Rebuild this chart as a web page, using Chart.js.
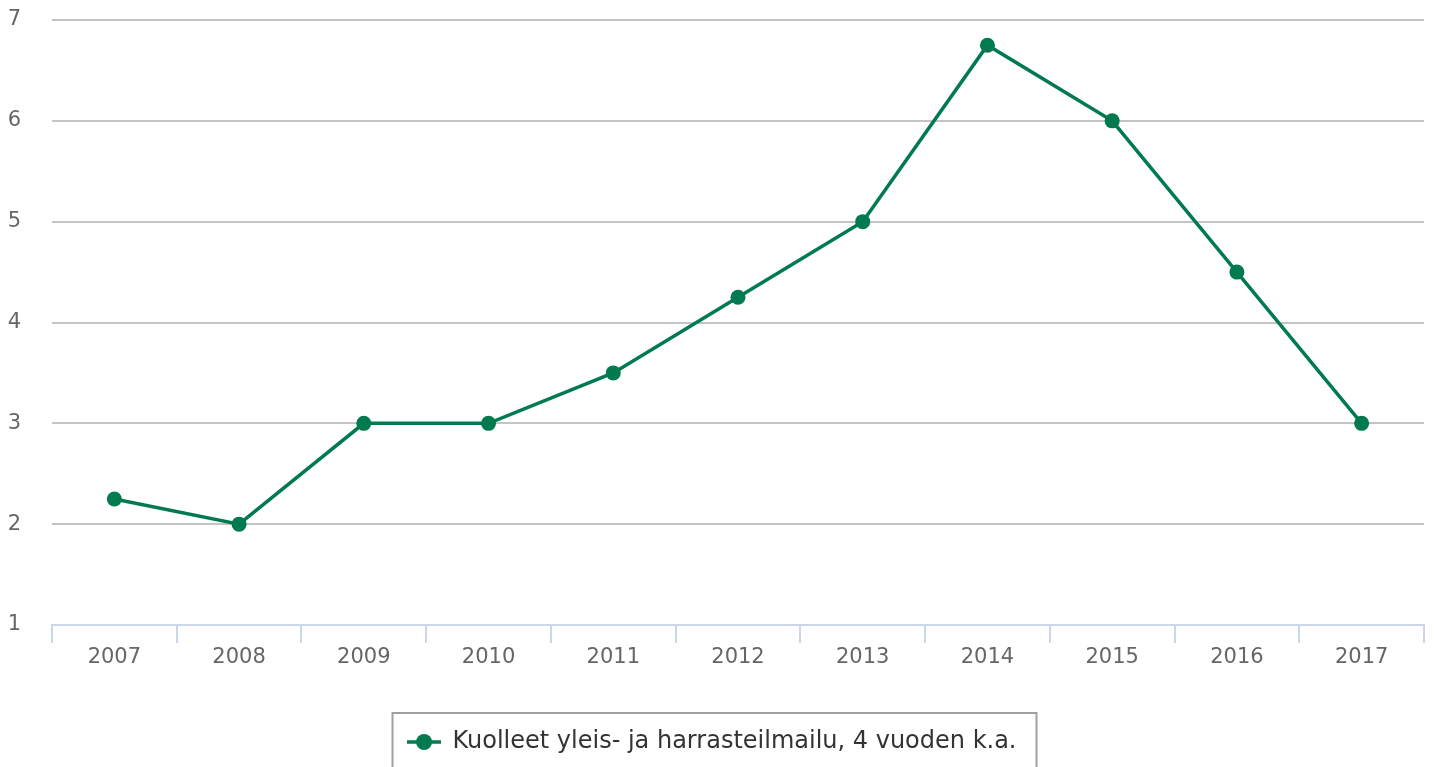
<!DOCTYPE html>
<html>
<head>
<meta charset="utf-8">
<script src="https://cdn.jsdelivr.net/npm/chart.js@4/dist/chart.umd.min.js"></script>
<style>
  html, body { margin: 0; padding: 0; background: #fff; }
  #wrap { width: 1435px; height: 767px; position: relative; }
</style>
</head>
<body>
<div id="wrap"><canvas id="c"></canvas></div>
<script>
const categories = ['2007', '2008', '2009', '2010', '2011', '2012', '2013', '2014', '2015', '2016', '2017'];
const seriesName = 'Kuolleet yleis- ja harrasteilmailu, 4 vuoden k.a.';
const seriesValues = [2.25, 2, 3, 3, 3.5, 4.25, 5, 6.75, 6, 4.5, 3];
const yTicks = [1, 2, 3, 4, 5, 6, 7];

const GREEN = '#007a4e';

// legend symbol: line with a dot
const sym = document.createElement('canvas');
sym.width = 34; sym.height = 18;
(function () {
  const g = sym.getContext('2d');
  g.strokeStyle = GREEN; g.lineWidth = 3.5;
  g.beginPath(); g.moveTo(0, 9); g.lineTo(34, 9); g.stroke();
  g.fillStyle = GREEN;
  g.beginPath(); g.arc(17, 9, 8, 0, Math.PI * 2); g.fill();
})();

const legendBorder = {
  id: 'legendBorder',
  afterDraw(chart) {
    const lg = chart.legend;
    if (!lg || !lg.legendHitBoxes || !lg.legendHitBoxes.length) return;
    const hb = lg.legendHitBoxes[0];
    const ctx = chart.ctx;
    ctx.save();
    ctx.strokeStyle = '#a0a0a0';
    ctx.lineWidth = 2;
    ctx.strokeRect(hb.left - 15, lg.top - 2, hb.width + 35, 62);
    ctx.restore();
  }
};

new Chart(document.getElementById('c'), {
  type: 'line',
  data: {
    labels: categories,
    datasets: [{
      label: seriesName,
      data: seriesValues,
      borderColor: GREEN,
      backgroundColor: GREEN,
      borderWidth: 3.5,
      pointRadius: 7.5,
      pointHoverRadius: 7.5,
      pointBorderWidth: 0,
      pointBackgroundColor: GREEN,
      pointStyle: 'circle',
      tension: 0,
      fill: false
    }]
  },
  options: {
    responsive: true,
    maintainAspectRatio: false,
    animation: false,
    layout: { padding: { top: 20, right: 11, left: 0, bottom: 3 } },
    plugins: {
      tooltip: { enabled: false },
      legend: {
        position: 'bottom',
        labels: {
          usePointStyle: true,
          pointStyle: sym,
          pointStyleWidth: 33,
          padding: 15,
          color: '#333333',
          font: { family: 'DejaVu Sans', size: 24 },
          generateLabels(chart) {
            const items = Chart.defaults.plugins.legend.labels.generateLabels(chart);
            items.forEach(it => { it.pointStyle = sym; });
            return items;
          }
        }
      }
    },
    scales: {
      x: {
        offset: true,
        grid: {
          offset: true,
          drawOnChartArea: false,
          drawTicks: true,
          tickLength: 18,
          color: '#ccd6eb',
          lineWidth: 2
        },
        border: { display: true, color: '#ccd6eb', width: 2 },
        ticks: {
          color: '#666666',
          font: { family: 'DejaVu Sans', size: 21 },
          padding: 2,
          maxRotation: 0,
          autoSkip: false
        },
        afterFit(scale) { scale.height = 90; }
      },
      y: {
        min: 1,
        max: 7,
        afterBuildTicks(scale) { scale.ticks = yTicks.map(v => ({ value: v })); },
        grid: {
          drawTicks: false,
          color: ctx => (ctx.tick && ctx.tick.value === 1) ? 'rgba(0,0,0,0)' : '#c4c4c4',
          lineWidth: 2
        },
        border: { display: false },
        ticks: {
          color: '#666666',
          font: { family: 'DejaVu Sans', size: 21 },
          padding: 31
        },
        afterFit(scale) { scale.width = 52; scale.paddingTop = 0; scale.paddingBottom = 0; }
      }
    }
  },
  plugins: [legendBorder]
});
</script>
</body>
</html>
